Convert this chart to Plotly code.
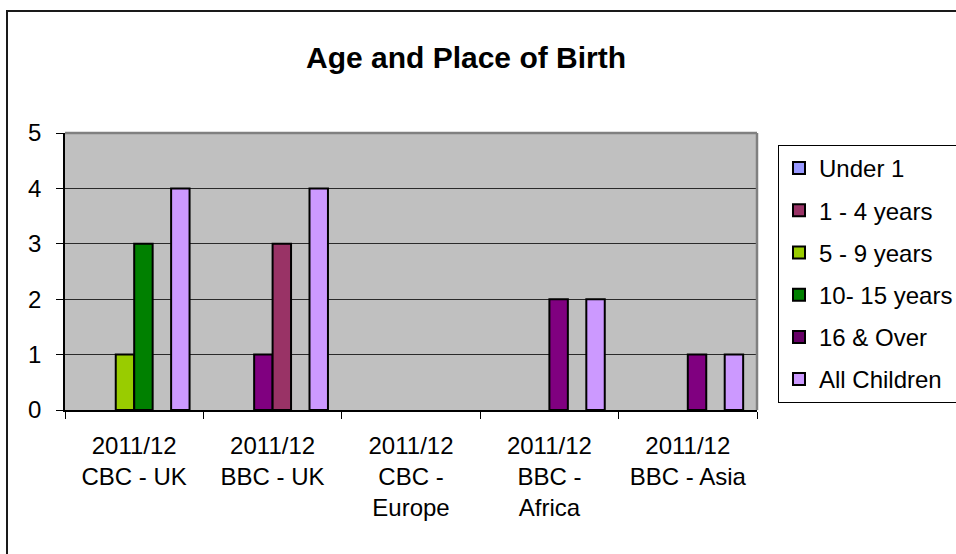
import plotly.graph_objects as go

# Categories (each label wraps onto several lines)
categories = [
    "2011/12<br>CBC - UK",
    "2011/12<br>BBC - UK",
    "2011/12<br>CBC -<br>Europe",
    "2011/12<br>BBC -<br>Africa",
    "2011/12<br>BBC - Asia",
]

# Series names, in plotting order
series_names = ["Under 1", "1 - 4 years", "5 - 9 years", "10- 15 years", "16 & Over", "All Children"]

# Values per series (None = empty cell)
under_1 = [None, None, None, None, None]
age_1_4 = [None, None, None, None, None]
age_5_9 = [1, 1, None, None, None]
age_10_15 = [3, 3, None, 2, 1]
age_16_over = [None, None, None, None, None]
all_children = [4, 4, None, 2, 1]

series_values = [under_1, age_1_4, age_5_9, age_10_15, age_16_over, all_children]

# Fill colours: series default, with per-point overrides
series_colors = ["#9999FF", "#993366", "#99CC00", "#008000", "#660066", "#CC99FF"]
point_colors = {
    "5 - 9 years": ["#99CC00", "#800080", "#99CC00", "#99CC00", "#99CC00"],
    "10- 15 years": ["#008000", "#993366", "#008000", "#800080", "#800080"],
}

FONT = "Liberation Sans, Arial, sans-serif"

W, H = 956, 554
L, R, T, B = 65, 199, 133, 144
PW, PH = W - L - R, H - T - B


def px_x(px):
    return (px - L) / PW


def px_y(py):
    return (H - B - py) / PH


fig = go.Figure()
for name, vals, col in zip(series_names, series_values, series_colors):
    fig.add_trace(
        go.Bar(
            x=categories,
            y=vals,
            name=name,
            legendgroup=name,
            marker=dict(
                color=point_colors.get(name, col),
                line=dict(color="#000000", width=2),
            ),
        )
    )

fig.update_layout(
    width=W,
    height=H,
    margin=dict(l=L, r=R, t=T, b=B, autoexpand=False),
    paper_bgcolor="#FFFFFF",
    plot_bgcolor="#C0C0C0",
    barmode="group",
    bargap=0.2,
    bargroupgap=0,
    font=dict(family=FONT, size=24, color="#000000"),
    title=dict(
        text="Age and Place of Birth",
        x=466 / W,
        xanchor="center",
        y=1 - 57 / H,
        yanchor="middle",
        font=dict(family=FONT, size=30, color="#000000", weight="bold"),
    ),
    showlegend=True,
    legend=dict(
        x=px_x(778),
        y=px_y(145),
        xanchor="left",
        yanchor="top",
        bgcolor="#FFFFFF",
        bordercolor="#000000",
        borderwidth=1,
        font=dict(family=FONT, size=24, color="#000000"),
        traceorder="grouped",
        tracegroupgap=8,
    ),
    xaxis=dict(
        type="category",
        showline=True,
        linecolor="#000000",
        linewidth=1.5,
        ticks="outside",
        tickson="boundaries",
        ticklen=7,
        tickcolor="#000000",
        tickwidth=1,
        showgrid=False,
        tickfont=dict(family=FONT, size=24, color="#000000"),
        ticklabelstandoff=13,
        fixedrange=True,
    ),
    yaxis=dict(
        range=[0, 5],
        dtick=1,
        showline=True,
        linecolor="#000000",
        linewidth=1.5,
        ticks="outside",
        ticklen=7,
        tickcolor="#000000",
        tickwidth=1,
        showgrid=True,
        gridcolor="#2A2A2A",
        gridwidth=1,
        zeroline=False,
        tickfont=dict(family=FONT, size=24, color="#000000"),
        ticklabelstandoff=10,
        fixedrange=True,
    ),
)

# Plot-area frame (top and right edges) and the outer chart border
fig.add_shape(type="line", xref="paper", yref="paper", x0=0, x1=1, y0=1, y1=1,
              line=dict(color="#808080", width=2.5), layer="above")
fig.add_shape(type="line", xref="paper", yref="paper", x0=1, x1=1, y0=0, y1=1,
              line=dict(color="#808080", width=2.5), layer="above")
fig.add_shape(type="rect", xref="paper", yref="paper",
              x0=px_x(7), x1=px_x(W + 20), y0=px_y(H + 20), y1=px_y(11),
              line=dict(color="#1A1A1A", width=2), fillcolor="rgba(0,0,0,0)", layer="above")

fig.write_html("out.html")
